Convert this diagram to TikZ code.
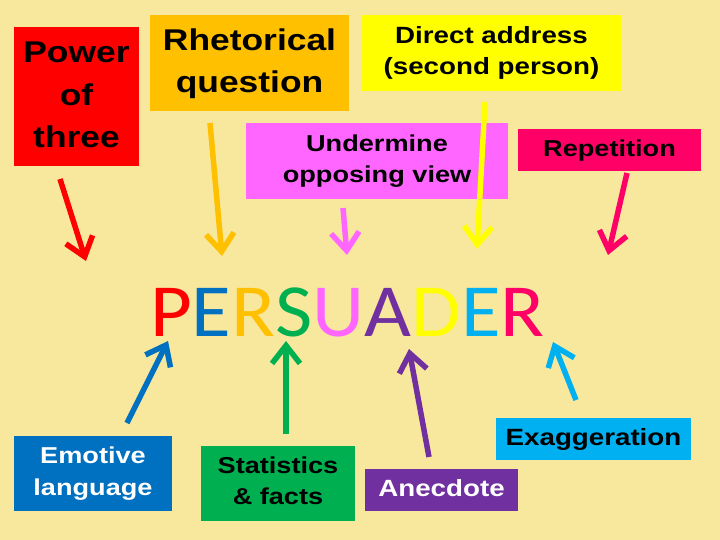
\documentclass[tikz,border=0pt]{standalone}
\usepackage{fontspec}
\setmainfont{Liberation Sans}
\newfontfamily\calib{Carlito}
\usepackage{graphicx}
\usetikzlibrary{arrows.meta}
\definecolor{bg}{HTML}{F8E89E}
\definecolor{cred}{HTML}{FF0000}
\definecolor{cblue}{HTML}{0070C0}
\definecolor{corange}{HTML}{FFC000}
\definecolor{cgreen}{HTML}{00B050}
\definecolor{cpink}{HTML}{FF66FF}
\definecolor{cpurple}{HTML}{7030A0}
\definecolor{cyellow}{HTML}{FFFF00}
\definecolor{ccyan}{HTML}{00B0F0}
\definecolor{crose}{HTML}{FF0066}
\newcommand\stx[3]{\scalebox{1.18}[1]{\fontsize{#1}{#2}\selectfont\bfseries\begin{tabular}{@{}c@{}}#3\end{tabular}}}
\tikzset{
  box/.style={inner sep=0pt, outer sep=0pt, draw=none, align=center},
  arr/.style={line width=5.5pt, -{Straight Barb[length=18pt,width=28pt]}},
}
\begin{document}
\begin{tikzpicture}[x=1pt,y=-1pt]
\useasboundingbox[fill=bg] (0,0) rectangle (720,540);
% top boxes
\node[box, fill=cred, minimum width=125, minimum height=139] (power) at (76.5,97) {\stx{30}{42.5}{Power\\of\\three}};
\node[box, fill=corange, minimum width=199, minimum height=96] (rhet) at (249.5,63) {\stx{30}{42}{Rhetorical\\question}};
\node[box, fill=cyellow, minimum width=259, minimum height=76] (direct) at (491.5,53) {\stx{23.5}{31}{Direct address\\(second person)}};
\node[box, fill=cpink, minimum width=262, minimum height=76] (under) at (377,161) {\stx{23}{31}{Undermine\\opposing view}};
\node[box, fill=crose, minimum width=183, minimum height=42] (rep) at (609.5,150) {\stx{23}{31}{Repetition}};
% bottom boxes
\node[box, fill=cblue, text=white, minimum width=158, minimum height=75] (emo) at (93,473) {\stx{23}{32}{Emotive\\language}};
\node[box, fill=cgreen, minimum width=154, minimum height=75] (stat) at (278,483) {\stx{23}{31}{Statistics\\\& facts}};
\node[box, fill=cpurple, text=white, minimum width=153, minimum height=42] (anec) at (441.5,490) {\stx{23.5}{31}{Anecdote}};
\node[box, fill=ccyan, minimum width=195, minimum height=42] (exag) at (593.5,439) {\stx{23.5}{31}{Exaggeration}};
% word
\node[anchor=base, inner sep=0pt] (word) at (347.5,336) {\scalebox{1.08}[1]{\calib\fontsize{75}{80}\selectfont
\textcolor{cred}{P}\textcolor{cblue}{E}\textcolor{corange}{R}\textcolor{cgreen}{S}\textcolor{cpink}{U}\textcolor{cpurple}{A}\textcolor{cyellow}{D}\textcolor{ccyan}{E}\textcolor{crose}{R}}};
% arrow ends
\coordinate (a1s) at (60,179);  \coordinate (a1e) at (86,261);
\coordinate (a2s) at (210,123); \coordinate (a2e) at (222,256);
\coordinate (a3s) at (343,208); \coordinate (a3e) at (347,255);
\coordinate (a4s) at (485,102); \coordinate (a4e) at (477,249);
\coordinate (a5s) at (627,173); \coordinate (a5e) at (608,255);
\coordinate (b1s) at (127,423); \coordinate (b1e) at (168,341);
\coordinate (b2s) at (286,434); \coordinate (b2e) at (286,341);
\coordinate (b3s) at (429,457); \coordinate (b3e) at (409,349);
\coordinate (b4s) at (576,400); \coordinate (b4e) at (553,342);
\draw[arr, cred] (a1s) -- (a1e);
\draw[arr, corange] (a2s) -- (a2e);
\draw[arr, cpink] (a3s) -- (a3e);
\draw[arr, cyellow] (a4s) -- (a4e);
\draw[arr, crose] (a5s) -- (a5e);
\draw[arr, cblue] (b1s) -- (b1e);
\draw[arr, cgreen] (b2s) -- (b2e);
\draw[arr, cpurple] (b3s) -- (b3e);
\draw[arr, ccyan] (b4s) -- (b4e);
\end{tikzpicture}
\end{document}
